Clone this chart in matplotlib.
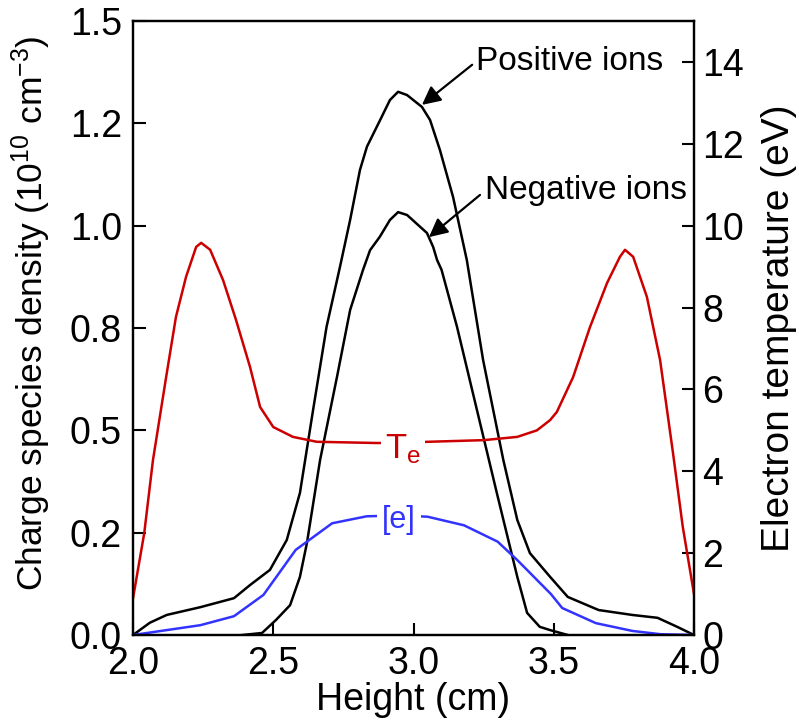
import matplotlib
matplotlib.use('Agg')
import matplotlib.pyplot as plt
from matplotlib.ticker import FormatStrFormatter, MultipleLocator

plt.rcParams['font.family'] = ['Liberation Sans', 'DejaVu Sans']
plt.rcParams['mathtext.fontset'] = 'custom'
plt.rcParams['mathtext.rm'] = 'Liberation Sans'
plt.rcParams['mathtext.it'] = 'Liberation Sans:italic'
plt.rcParams['mathtext.default'] = 'regular'

# height (cm) vs density (1e10 cm^-3)
pos_x = [2.0, 2.06, 2.12, 2.24, 2.36, 2.417, 2.488, 2.548, 2.595, 2.642, 2.69, 2.738, 2.774,
         2.809, 2.834, 2.881, 2.916, 2.945, 2.977, 3.03, 3.059, 3.094, 3.141, 3.19, 3.248,
         3.32, 3.37, 3.415, 3.487, 3.55, 3.66, 3.78, 3.87, 3.94, 4.0]
pos_d = [0.0, 0.03, 0.049, 0.068, 0.09, 0.122, 0.159, 0.232, 0.347, 0.55, 0.753, 0.90, 1.014,
         1.136, 1.193, 1.258, 1.307, 1.327, 1.319, 1.29, 1.258, 1.185, 1.07, 0.916, 0.672,
         0.428, 0.281, 0.20, 0.142, 0.093, 0.061, 0.049, 0.042, 0.02, 0.0]

neg_x = [2.39, 2.46, 2.51, 2.56, 2.595, 2.62, 2.667, 2.727, 2.774, 2.82, 2.845, 2.88, 2.916,
         2.945, 2.977, 3.048, 3.07, 3.084, 3.10, 3.155, 3.226, 3.297, 3.37, 3.405, 3.45,
         3.487, 3.55]
neg_d = [0.0, 0.005, 0.037, 0.073, 0.142, 0.225, 0.428, 0.63, 0.794, 0.892, 0.94, 0.973,
         1.014, 1.033, 1.026, 0.982, 0.948, 0.916, 0.892, 0.753, 0.55, 0.347, 0.142, 0.054,
         0.02, 0.012, 0.0]

ele_x = [2.0, 2.24, 2.36, 2.465, 2.58, 2.71, 2.833, 2.95, 3.05, 3.18, 3.30, 3.37, 3.49,
         3.53, 3.65, 3.78, 3.88, 4.0]
ele_d = [0.0, 0.024, 0.046, 0.098, 0.208, 0.273, 0.29, 0.292, 0.289, 0.268, 0.228, 0.183,
         0.10, 0.066, 0.029, 0.01, 0.002, 0.0]

# electron temperature (eV)
te_x = [2.0, 2.04, 2.071, 2.118, 2.153, 2.189, 2.225, 2.243, 2.275, 2.321, 2.367, 2.417,
        2.453, 2.50, 2.57, 2.655, 2.87, 2.95, 3.052, 3.25, 3.37, 3.44, 3.487, 3.511, 3.569,
        3.629, 3.69, 3.736, 3.754, 3.783, 3.832, 3.879, 3.925, 3.96, 4.0]
te_v = [0.9, 2.49, 4.27, 6.3, 7.77, 8.75, 9.48, 9.58, 9.41, 8.67, 7.70, 6.55,
        5.57, 5.08, 4.84, 4.72, 4.69, 4.70, 4.72, 4.76, 4.84, 5.0, 5.25, 5.45, 6.30,
        7.52, 8.60, 9.24, 9.41, 9.24, 8.26, 6.72, 4.45, 2.64, 1.0]

red = '#cc0000'
blue = '#3333ff'
fs = 27

fig = plt.figure(figsize=(7.99, 7.23), dpi=100)
ax = fig.add_axes([0.1665, 0.1217, 0.7021, 0.8493])
ax2 = ax.twinx()

ax.plot(pos_x, pos_d, color='black', lw=1.8)
ax.plot(neg_x, neg_d, color='black', lw=1.8)
ax.plot(ele_x, ele_d, color=blue, lw=1.8)
ax2.plot(te_x, te_v, color=red, lw=1.8)

ax.set_xlim(2.0, 4.0)
ax.set_ylim(0, 1.5)
ax2.set_ylim(0, 15)
ax.xaxis.set_major_locator(MultipleLocator(0.5))
ax.yaxis.set_major_locator(MultipleLocator(0.25))
ax.xaxis.set_major_formatter(FormatStrFormatter('%.1f'))
ax.yaxis.set_major_formatter(FormatStrFormatter('%.1f'))
ax2.yaxis.set_major_locator(MultipleLocator(2))

ax.tick_params(axis='both', direction='in', length=9, width=1.5, labelsize=fs, pad=8,
               top=False, right=False)
ax2.tick_params(axis='y', direction='in', length=9, width=1.5, labelsize=fs, pad=6)
for a in (ax, ax2):
    for s in a.spines.values():
        s.set_linewidth(1.6)

ax.set_xlabel('Height (cm)', fontsize=fs, labelpad=0)
ax.set_ylabel('Charge species density (10$^{10}$ cm$^{-3}$)', fontsize=25.5)
ax.yaxis.set_label_coords(-0.143, 0.524)
ax2.set_ylabel('Electron temperature (eV)', fontsize=28, labelpad=12)

ax.annotate('', xy=(3.03, 1.295), xytext=(3.209, 1.393),
            arrowprops=dict(arrowstyle='-|>', color='black', lw=1.6, mutation_scale=28,
                            shrinkA=0, shrinkB=0))
ax.text(3.223, 1.40, 'Positive ions', fontsize=24, ha='left', va='center')
ax.annotate('', xy=(3.055, 0.972), xytext=(3.237, 1.075),
            arrowprops=dict(arrowstyle='-|>', color='black', lw=1.6, mutation_scale=28,
                            shrinkA=0, shrinkB=0))
ax.text(3.255, 1.087, 'Negative ions', fontsize=24, ha='left', va='center')

ax2.text(2.962, 4.55, 'T$_e$', color=red, fontsize=25, ha='center', va='center',
         bbox=dict(facecolor='white', edgecolor='none', pad=3))
ax.text(2.948, 0.28, '[e]', color=blue, fontsize=22, ha='center', va='center',
        bbox=dict(facecolor='white', edgecolor='none', pad=4))

fig.savefig('out.png', dpi=100)
